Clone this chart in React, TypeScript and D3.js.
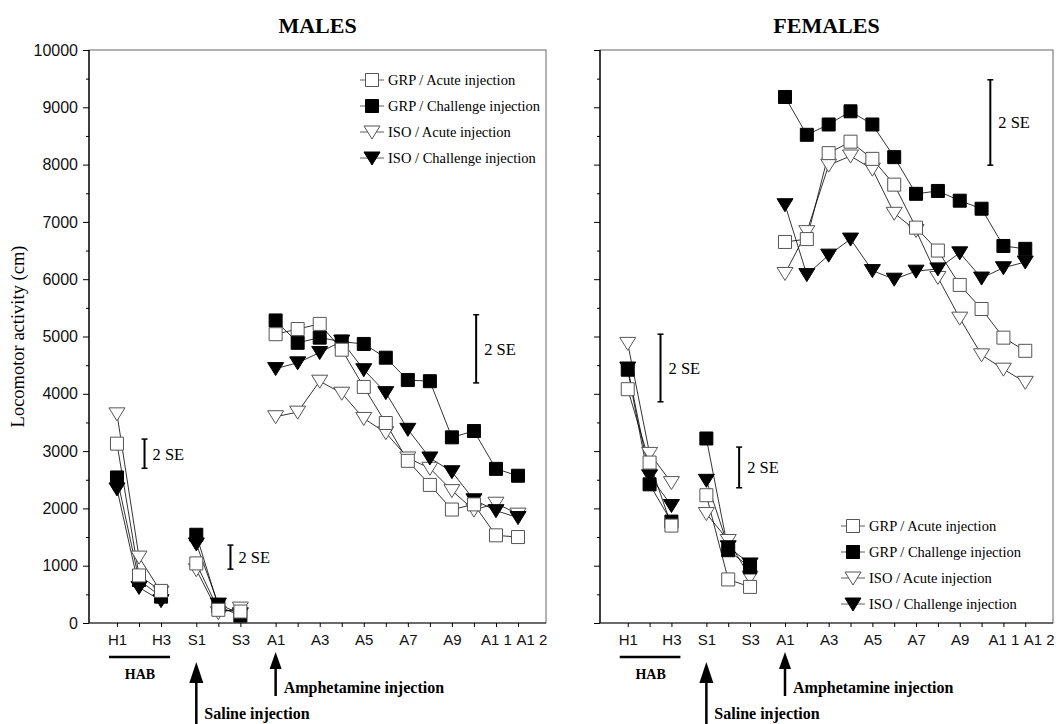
import React, { useEffect, useRef } from "react";
import * as d3 from "d3";

// session labels for each phase
const habLabels = ["H1", "H2", "H3"];
const salineLabels = ["S1", "S2", "S3"];
const amphLabels = ["A1", "A2", "A3", "A4", "A5", "A6", "A7", "A8", "A9", "A10", "A11", "A12"];
const shownTicks = ["H1", "H3", "S1", "S3", "A1", "A3", "A5", "A7", "A9", "A11", "A12"];
const tickText: Record<string, string> = { A11: "A1 1", A12: "A1 2" };

const seriesNames = [
  "GRP / Acute injection",
  "GRP / Challenge injection",
  "ISO / Acute injection",
  "ISO / Challenge injection",
];

// males, locomotor activity (cm): H1-H3, S1-S3, A1-A12
const maleGrpAcute = [3130, 830, 560, 1040, 230, 200, 5040, 5130, 5220, 4770, 4120, 3490, 2830, 2410, 1980, 2070, 1530, 1500];
const maleGrpChallenge = [2540, 750, 460, 1540, 290, 130, 5280, 4890, 4980, 4910, 4870, 4630, 4240, 4220, 3240, 3350, 2690, 2570];
const maleIsoAcute = [3650, 1150, 540, 930, 180, 260, 3600, 3680, 4220, 4010, 3570, 3320, 2880, 2700, 2310, 1970, 2090, 1900];
const maleIsoChallenge = [2340, 620, 390, 1380, 330, 160, 4440, 4540, 4720, 4920, 4420, 4020, 3380, 2880, 2640, 2150, 1960, 1840];

// females
const femaleGrpAcute = [4080, 2800, 1700, 2230, 760, 630, 6650, 6700, 8200, 8400, 8100, 7650, 6900, 6500, 5900, 5480, 4980, 4750];
const femaleGrpChallenge = [4420, 2420, 1770, 3220, 1270, 970, 9180, 8520, 8700, 8930, 8700, 8130, 7490, 7540, 7370, 7230, 6580, 6530];
const femaleIsoAcute = [4880, 2960, 2450, 1910, 1440, 800, 6100, 6830, 7990, 8150, 7920, 7150, 6850, 6030, 5320, 4680, 4430, 4200];
const femaleIsoChallenge = [4450, 2570, 2050, 2490, 1330, 1030, 7300, 6080, 6420, 6700, 6150, 6000, 6140, 6180, 6460, 6020, 6200, 6300];

// 2 SE bars: [session position, low, high]
const maleSE = [[1.25, 2700, 3210], [5.15, 940, 1360], [16.3, 4190, 5380]];
const femaleSE = [[1.5, 3860, 5040], [5.1, 2360, 3070], [16.6, 7990, 9480]];

const W = 1059;
const H = 724;
const serif = "'Liberation Serif', 'Times New Roman', serif";
const sans = "'Liberation Sans', Arial, sans-serif";

const markerStyles = [
  { shape: "M-6.5,-6.5h13v13h-13z", fill: "#fff", stroke: "#555" },
  { shape: "M-6.5,-6.5h13v13h-13z", fill: "#000", stroke: "#000" },
  { shape: "M-8,-6L8,-6L0,7Z", fill: "#fff", stroke: "#555" },
  { shape: "M-8,-6L8,-6L0,7Z", fill: "#000", stroke: "#000" },
];

const App = () => {
  const svgRef = useRef<SVGSVGElement>(null);

  useEffect(() => {
    drawChart();
  }, []);

  const drawChart = () => {
    const svg = d3.select(svgRef.current);
    svg.selectAll("*").remove();

    const phaseStart = [0, 3.6, 7.2];
    const phases = [habLabels, salineLabels, amphLabels];
    const allLabels = phases.flat();
    const allPos = phases.flatMap((labels, p) => labels.map((_, i) => phaseStart[p] + i));

    const y = d3.scaleLinear().domain([0, 10000]).range([623, 50]);

    const panels = [
      {
        title: "MALES", x0: 89, x1: 546, yLabels: true, se: maleSE, legend: [372, 80],
        series: [maleGrpAcute, maleGrpChallenge, maleIsoAcute, maleIsoChallenge],
      },
      {
        title: "FEMALES", x0: 600, x1: 1053, yLabels: false, se: femaleSE, legend: [853, 526],
        series: [femaleGrpAcute, femaleGrpChallenge, femaleIsoAcute, femaleIsoChallenge],
      },
    ];

    panels.forEach((p) => {
      const x = d3.scaleLinear().domain([-1.27, 19.47]).range([p.x0, p.x1]);
      const g = svg.append("g");

      // title
      g.append("text")
        .attr("x", (p.x0 + p.x1) / 2)
        .attr("y", 33)
        .attr("text-anchor", "middle")
        .attr("font-family", serif)
        .attr("font-weight", "bold")
        .attr("font-size", 22)
        .text(p.title);

      // frame
      g.append("rect")
        .attr("x", p.x0)
        .attr("y", y(10000))
        .attr("width", p.x1 - p.x0)
        .attr("height", y(0) - y(10000))
        .attr("fill", "none")
        .attr("stroke", "#666")
        .attr("stroke-width", 1);
      g.append("line")
        .attr("x1", p.x0).attr("x2", p.x0)
        .attr("y1", y(10000)).attr("y2", y(0))
        .attr("stroke", "#000").attr("stroke-width", 1.3);
      g.append("line")
        .attr("x1", p.x0).attr("x2", p.x1)
        .attr("y1", y(0)).attr("y2", y(0))
        .attr("stroke", "#222").attr("stroke-width", 1.2);

      // Y axis
      g.append("g")
        .attr("transform", `translate(${p.x0},0)`)
        .call(
          d3.axisLeft(y)
            .tickValues(d3.range(0, 10001, 1000))
            .tickSize(6)
            .tickPadding(5)
            .tickFormat((d) => (p.yLabels ? String(d) : ""))
        )
        .call((a) => a.select(".domain").remove())
        .call((a) => a.selectAll("text").attr("font-family", sans).attr("font-size", 16).attr("fill", "#111"));
      g.append("g")
        .attr("transform", `translate(${p.x0},0)`)
        .call(d3.axisLeft(y).tickValues(d3.range(500, 10000, 1000)).tickSize(3).tickFormat(() => ""))
        .call((a) => a.select(".domain").remove());

      // X axis
      g.append("g")
        .attr("transform", `translate(0,${y(0)})`)
        .call(
          d3.axisBottom(x)
            .tickValues(allPos)
            .tickSize(4)
            .tickPadding(7)
            .tickFormat((d, i) => {
              const lab = allLabels[i];
              return shownTicks.includes(lab) ? tickText[lab] || lab : "";
            })
        )
        .call((a) => a.select(".domain").remove())
        .call((a) =>
          a.selectAll("text")
            .attr("font-family", sans)
            .attr("font-size", 15)
            .attr("fill", "#111")
            .filter((_, i) => allLabels[i] === "A12")
            .attr("text-anchor", "start")
            .attr("dx", -2)
        );

      // lines, one per phase
      p.series.forEach((vals) => {
        let k = 0;
        phases.forEach((labels, ph) => {
          const pts = labels.map((_, i) => [x(phaseStart[ph] + i), y(vals[k + i])] as [number, number]);
          k += labels.length;
          g.append("path")
            .attr("d", d3.line()(pts))
            .attr("fill", "none")
            .attr("stroke", "#000")
            .attr("stroke-width", 0.8);
        });
      });

      // markers
      [2, 3, 1, 0].forEach((s) => {
        const st = markerStyles[s];
        g.append("g")
          .selectAll("path")
          .data(p.series[s])
          .enter()
          .append("path")
          .attr("d", st.shape)
          .attr("transform", (d, i) => `translate(${x(allPos[i])},${y(d)})`)
          .attr("fill", st.fill)
          .attr("stroke", st.stroke)
          .attr("stroke-width", 1);
      });

      // 2 SE bars
      p.se.forEach(([pos, lo, hi]) => {
        const bx = x(pos);
        g.append("line").attr("x1", bx).attr("x2", bx).attr("y1", y(lo)).attr("y2", y(hi))
          .attr("stroke", "#000").attr("stroke-width", 2);
        [lo, hi].forEach((v) =>
          g.append("line").attr("x1", bx - 3).attr("x2", bx + 3).attr("y1", y(v)).attr("y2", y(v))
            .attr("stroke", "#000").attr("stroke-width", 1.5)
        );
        g.append("text")
          .attr("x", bx + 8)
          .attr("y", (y(lo) + y(hi)) / 2 + 6)
          .attr("font-family", serif)
          .attr("font-size", 16.5)
          .text("2 SE");
      });

      // legend
      const [lx, ly] = p.legend;
      seriesNames.forEach((name, s) => {
        const ry = ly + s * 26;
        const st = markerStyles[s];
        g.append("line").attr("x1", lx - 12).attr("x2", lx + 12).attr("y1", ry).attr("y2", ry)
          .attr("stroke", "#333").attr("stroke-width", 0.8);
        g.append("path").attr("d", st.shape).attr("transform", `translate(${lx},${ry})`)
          .attr("fill", st.fill).attr("stroke", st.stroke);
        g.append("text")
          .attr("x", lx + 16)
          .attr("y", ry + 5)
          .attr("font-family", serif)
          .attr("font-size", 14.5)
          .text(name);
      });

      // HAB bar
      const h0 = x(phaseStart[0]);
      const h1 = x(phaseStart[0] + 2);
      g.append("line").attr("x1", h0 - 8).attr("x2", h1 + 9).attr("y1", 657).attr("y2", 657)
        .attr("stroke", "#000").attr("stroke-width", 2.5);
      g.append("text")
        .attr("x", (h0 + h1) / 2 + 1)
        .attr("y", 679)
        .attr("text-anchor", "middle")
        .attr("font-family", serif)
        .attr("font-weight", "bold")
        .attr("font-size", 14)
        .text("HAB");

      // injection arrows
      const arrows = [
        { pos: phaseStart[1], tip: 662, head: 683, end: 724, hw: 7, label: "Saline injection", ty: 719 },
        { pos: phaseStart[2], tip: 652, head: 669, end: 696, hw: 6, label: "Amphetamine injection", ty: 693 },
      ];
      arrows.forEach((a) => {
        const ax = x(a.pos);
        g.append("line").attr("x1", ax).attr("x2", ax).attr("y1", a.head).attr("y2", a.end)
          .attr("stroke", "#000").attr("stroke-width", 2.5);
        g.append("path")
          .attr("d", `M${ax},${a.tip}L${ax - a.hw},${a.head}L${ax + a.hw},${a.head}Z`)
          .attr("fill", "#000");
        g.append("text")
          .attr("x", ax + 8)
          .attr("y", a.ty)
          .attr("font-family", serif)
          .attr("font-weight", "bold")
          .attr("font-size", 16)
          .text(a.label);
      });
    });

    // y axis title
    svg.append("text")
      .attr("transform", `translate(24,${y(5000)}) rotate(-90)`)
      .attr("text-anchor", "middle")
      .attr("font-family", serif)
      .attr("font-size", 18.5)
      .text("Locomotor activity (cm)");
  };

  return (
    <svg
      ref={svgRef}
      width={W}
      height={H}
      style={{ position: "absolute", left: 0, top: 0, background: "#fff" }}
    />
  );
};

export default App;
